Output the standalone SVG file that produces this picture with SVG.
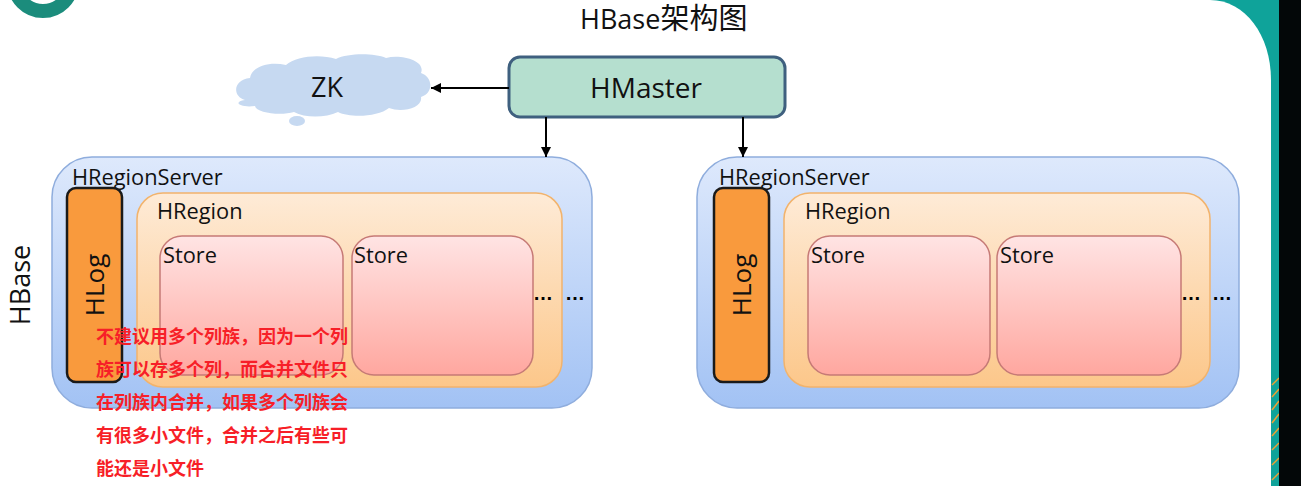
<svg xmlns="http://www.w3.org/2000/svg" width="1301" height="486" viewBox="0 0 1301 486">
  <defs>
    <linearGradient id="gServer" x1="0" y1="0" x2="0" y2="1">
      <stop offset="0" stop-color="#DEE9FC"/>
      <stop offset="1" stop-color="#A2C2F4"/>
    </linearGradient>
    <linearGradient id="gRegion" x1="0" y1="0" x2="0" y2="1">
      <stop offset="0" stop-color="#FEEBD7"/>
      <stop offset="1" stop-color="#FCC78A"/>
    </linearGradient>
    <linearGradient id="gStore" x1="0" y1="0" x2="0" y2="1">
      <stop offset="0" stop-color="#FFE4E4"/>
      <stop offset="1" stop-color="#FFA79F"/>
    </linearGradient>
    <marker id="arrow" markerUnits="userSpaceOnUse" markerWidth="11" markerHeight="10" refX="10" refY="5" orient="auto">
      <path d="M0,0 L10,5 L0,10 z" fill="#000"/>
    </marker>
    <style>
      .lbl { font-family: "Open Sans", "Liberation Sans", sans-serif; fill: #111; }
      .server { fill: url(#gServer); stroke: #8FADDD; stroke-width: 1.5; }
      .region { fill: url(#gRegion); stroke: #F2B36C; stroke-width: 1.5; }
      .store { fill: url(#gStore); stroke: #C67A76; stroke-width: 1.5; }
      .hlog { fill: #F99A3D; stroke: #1A1A1A; stroke-width: 2.5; }
      .dots { font-family: "Liberation Sans", sans-serif; font-size: 20px; fill: #000; font-weight: bold; }
      .note { font-family: "Noto Sans CJK SC", "Noto Sans", sans-serif; font-size: 18px; font-weight: bold; fill: #F71F28; }
      .conn { stroke: #000; stroke-width: 2; fill: none; marker-end: url(#arrow); }
    </style>
  </defs>

  <!-- background -->
  <rect x="0" y="0" width="1301" height="486" fill="#FFFFFF"/>
  <rect x="1200" y="0" width="80" height="486" fill="#0FA39A"/>
  <path d="M1200,0 L1210,0 C1245,0 1271,35 1271,80 L1271,486 L1200,486 Z" fill="#FFFFFF"/>
  <g stroke="#F0A030" stroke-width="1.5">
    <line x1="1272" y1="385" x2="1279" y2="378"/>
    <line x1="1272" y1="397" x2="1279" y2="389"/>
    <line x1="1272" y1="410" x2="1279" y2="401"/>
    <line x1="1272" y1="423" x2="1279" y2="414"/>
    <line x1="1272" y1="436" x2="1279" y2="428"/>
    <line x1="1272" y1="450" x2="1279" y2="443"/>
    <line x1="1272" y1="465" x2="1279" y2="458"/>
    <line x1="1272" y1="480" x2="1279" y2="473"/>
  </g>
  <rect x="1279" y="0" width="22" height="486" fill="#030708"/>
  <circle cx="43" cy="-18" r="29" fill="none" stroke="#1B8C7C" stroke-width="14"/>

  <!-- title -->
  <text x="580" y="29" font-family="Open Sans, Liberation Sans, sans-serif" font-size="27" fill="#111">HBase<tspan font-family="Noto Sans CJK SC, sans-serif" font-size="29">架构图</tspan></text>

  <!-- HBase side label -->
  <text class="lbl" transform="translate(30,285) rotate(-90)" text-anchor="middle" font-size="27">HBase</text>

  <!-- ZK cloud -->
  <g id="zk">
    <path d="M245,100 C232,96 233,80 250,78 C252,66 270,61 286,65 C296,56 320,54 336,59 C348,53 374,53 386,58 C402,54 426,61 421,73 C433,77 434,93 421,97 C423,108 402,113 389,108 C378,117 350,118 338,112 C325,118 305,118 294,112 C281,116 256,113 255,106 C240,108 232,102 245,100 Z" fill="#C6D9F1"/>
    <ellipse cx="297" cy="121" rx="8" ry="5" fill="#C6D9F1"/>
    <text class="lbl" x="327" y="97" text-anchor="middle" font-size="27">ZK</text>
  </g>

  <!-- HMaster -->
  <g id="hmaster">
    <rect x="509" y="57" width="276" height="60" rx="11" fill="#B5DFCF" stroke="#3F607F" stroke-width="3"/>
    <text class="lbl" x="646" y="98" text-anchor="middle" font-size="28">HMaster</text>
  </g>

  <!-- Left HRegionServer -->
  <g id="server1">
    <rect class="server" x="52" y="157" width="540" height="251" rx="40"/>
    <text class="lbl" x="72" y="185" font-size="21.8">HRegionServer</text>
    <rect class="region" x="137" y="193" width="425" height="194" rx="26"/>
    <text class="lbl" x="157" y="219" font-size="21.8">HRegion</text>
    <rect class="store" x="160" y="236" width="183" height="139" rx="22"/>
    <text class="lbl" x="163" y="263" font-size="21.8">Store</text>
    <rect class="store" x="352" y="236" width="181" height="139" rx="22"/>
    <text class="lbl" x="354" y="263" font-size="21.8">Store</text>
    <text class="dots" x="533" y="300">…</text>
    <text class="dots" x="565" y="300">…</text>
    <rect class="hlog" x="67" y="188" width="55" height="194" rx="9"/>
    <text class="lbl" transform="translate(104,285) rotate(-90)" text-anchor="middle" font-size="26">HLog</text>
  </g>

  <!-- Right HRegionServer -->
  <g id="server2">
    <rect class="server" x="697" y="157" width="542" height="251" rx="40"/>
    <text class="lbl" x="719" y="185" font-size="21.8">HRegionServer</text>
    <rect class="region" x="784" y="193" width="426" height="194" rx="26"/>
    <text class="lbl" x="805" y="219" font-size="21.8">HRegion</text>
    <rect class="store" x="808" y="236" width="182" height="139" rx="22"/>
    <text class="lbl" x="811" y="263" font-size="21.8">Store</text>
    <rect class="store" x="997" y="236" width="184" height="139" rx="22"/>
    <text class="lbl" x="1000" y="263" font-size="21.8">Store</text>
    <text class="dots" x="1181" y="300">…</text>
    <text class="dots" x="1212" y="300">…</text>
    <rect class="hlog" x="714" y="188" width="55" height="194" rx="9"/>
    <text class="lbl" transform="translate(751,285) rotate(-90)" text-anchor="middle" font-size="26">HLog</text>
  </g>

  <!-- connectors -->
  <g id="connectors">
    <line class="conn" x1="509" y1="88" x2="431" y2="88"/>
    <line class="conn" x1="546" y1="117" x2="546" y2="157"/>
    <line class="conn" x1="743" y1="117" x2="743" y2="157"/>
  </g>

  <!-- note -->
  <g id="note">
    <text class="note" x="96" y="343">不建议用多个列族，因为一个列</text>
    <text class="note" x="96" y="376">族可以存多个列，而合并文件只</text>
    <text class="note" x="96" y="409">在列族内合并，如果多个列族会</text>
    <text class="note" x="96" y="442">有很多小文件，合并之后有些可</text>
    <text class="note" x="96" y="475">能还是小文件</text>
  </g>
</svg>
